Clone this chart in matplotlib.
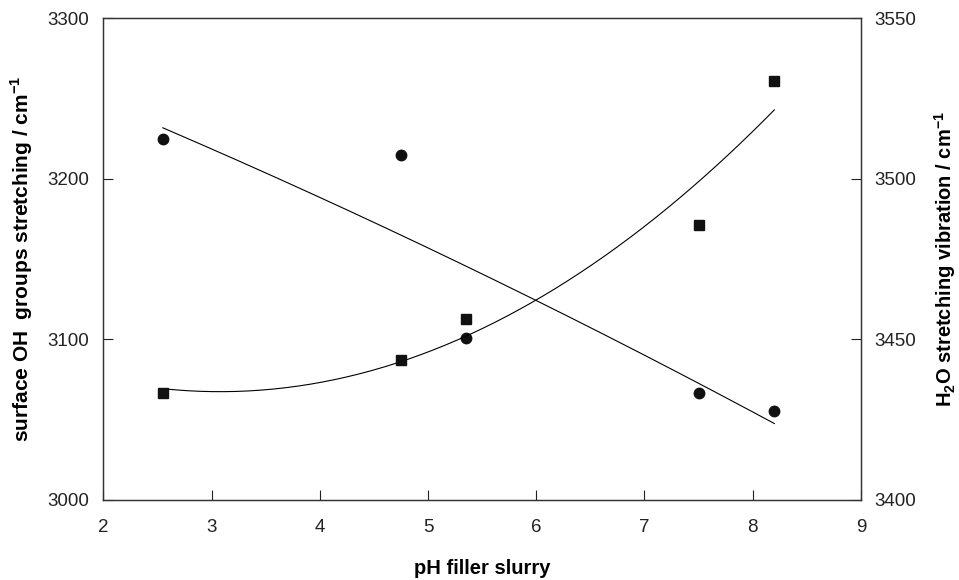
import numpy as np
import matplotlib
matplotlib.use("Agg")
import matplotlib.pyplot as plt

plt.rcParams['font.family'] = ['Liberation Sans', 'DejaVu Sans']
plt.rcParams['mathtext.fontset'] = 'custom'
plt.rcParams['mathtext.rm'] = 'Liberation Sans'
plt.rcParams['mathtext.bf'] = 'Liberation Sans:bold'

# data
ph = [2.55, 4.75, 5.35, 7.5, 8.2]
oh_stretch = [3224.7, 3214.7, 3101.0, 3066.6, 3055.7]     # circles, left axis
h2o_stretch = [3433.3, 3443.5, 3456.5, 3485.5, 3530.5]    # squares, right axis

xticks = [2, 3, 4, 5, 6, 7, 8, 9]
left_ticks = [3000, 3100, 3200, 3300]
right_ticks = [3400, 3450, 3500, 3550]

fig = plt.figure(figsize=(9.59, 5.80), dpi=100)
ax = fig.add_axes([0.1077, 0.138, 0.79, 0.8305])
ax2 = ax.twinx()

# 2nd order trend lines
xs = np.linspace(min(ph), max(ph), 200)
p1 = np.polyfit(ph, oh_stretch, 2)
p2 = np.polyfit(ph, h2o_stretch, 2)
ax.plot(xs, np.polyval(p1, xs), color='black', lw=0.8)
ax2.plot(xs, np.polyval(p2, xs), color='black', lw=0.8)

ax.plot(ph, oh_stretch, 'o', color='#111111', ms=7.5, ls='none')
ax2.plot(ph, h2o_stretch, 's', color='#111111', ms=7.2, ls='none')

ax.set_xlim(2, 9)
ax.set_ylim(3000, 3300)
ax2.set_ylim(3400, 3550)
ax.set_xticks(xticks)
ax.set_yticks(left_ticks)
ax2.set_yticks(right_ticks)

for a in (ax, ax2):
    a.tick_params(direction='in', length=7, width=0.8, labelsize=13.5, pad=10, colors='#222222')
    for s in a.spines.values():
        s.set_linewidth(0.9)
        s.set_color('#333333')
ax.tick_params(axis='x', pad=14)

ax.set_xlabel('pH filler slurry', fontsize=14.5, fontweight='bold', labelpad=16)
ax.set_ylabel(r'surface OH  groups stretching / cm$^{\mathbf{-1}}$', fontsize=15,
              fontweight='bold', labelpad=9)
ax2.set_ylabel(r'H$_{\mathbf{2}}$O stretching vibration / cm$^{\mathbf{-1}}$', fontsize=14.5,
               fontweight='bold', labelpad=11, rotation=90)

fig.savefig('out.png', dpi=100, facecolor='white')
